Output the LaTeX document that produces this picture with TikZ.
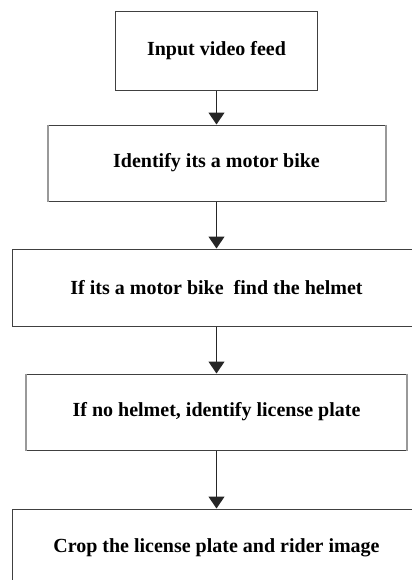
\documentclass[tikz,border=0pt]{standalone}
\usepackage{fontspec}
\setmainfont{Liberation Serif}
\usetikzlibrary{arrows.meta}
\tikzset{
  stepbox/.style={draw=black!75, line width=0.5pt, inner sep=0pt, align=center,
    font=\fontsize{10}{12}\selectfont\bfseries},
  flowarrow/.style={draw=black!85, line width=0.6pt, -{Triangle[width=8pt,length=6pt]}},
  sideedge/.style={draw=black!40, line width=1pt}
}
\begin{document}
\begin{tikzpicture}[x=0.5pt,y=-0.5pt]
      \clip (0,0) rectangle (412,580);
      \foreach \n/\y/\w/\h/\t in {1/50.5/101/39.5/Input video feed,
          2/163/169/38/Identify its a motor bike,
          3/287.5/204/38.5/If its a motor bike\ \ find the helmet,
          4/412/190.5/38/{If no helmet, identify license plate},
          5/547.5/204/38.5/Crop the license plate and rider image}{
        \node[stepbox, minimum width=\w pt, minimum height=\h pt](B\n) at (216.5, \y){\t};
      }
      \foreach \a/\b in {1/2, 2/3, 3/4, 4/5}{
        \draw[flowarrow](B\a.south)--(B\b.north);
      }
      \foreach \n in {2, 4}{
        \draw[sideedge]([xshift=0.25pt]B\n.north west)--([xshift=0.25pt]B\n.south west);
        \draw[sideedge]([xshift=-0.25pt]B\n.north east)--([xshift=-0.25pt]B\n.south east);
      }
    \end{tikzpicture}
\end{document}
